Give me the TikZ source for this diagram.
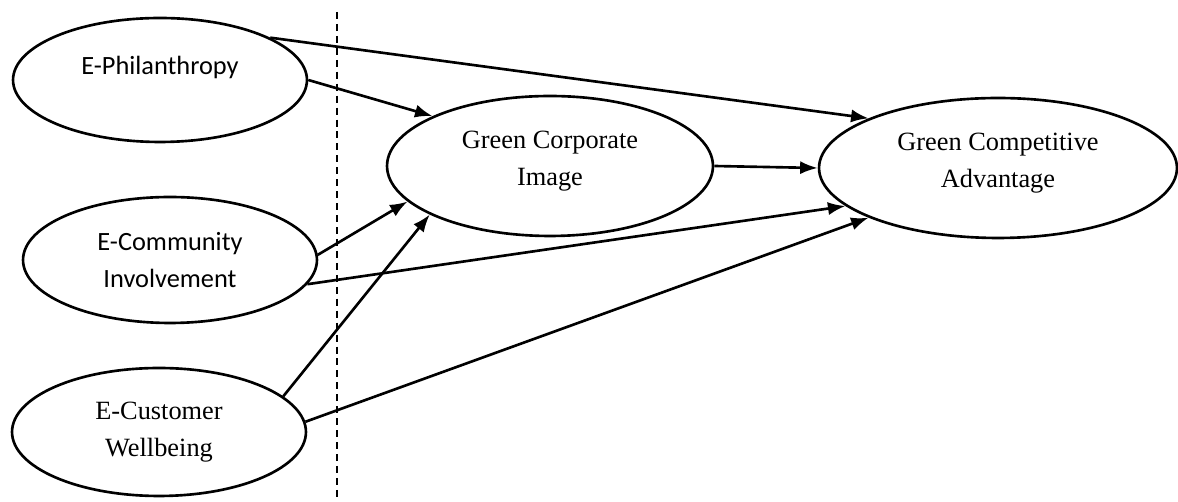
\documentclass[tikz,border=0pt]{standalone}
\usepackage{fontspec}
\setmainfont{Liberation Serif}
\newfontfamily\carlito{Carlito}
\usetikzlibrary{positioning,shapes.geometric,arrows.meta}
\tikzset{
  construct/.style={draw, ellipse, line width=1.5pt, inner sep=0pt, align=center, font=\fontsize{15}{21}\selectfont},
  sanslabel/.style={font=\carlito\fontsize{15}{21}\selectfont},
  link/.style={->, >={Latex[length=10pt,width=7.5pt]}, line width=1.5pt}
}

\begin{document}
\begin{tikzpicture}[x=0.02cm, y=-0.02cm]
  \useasboundingbox (0,0) rectangle (1178,502);
  % independent constructs
  \node[construct, sanslabel, minimum width=5.88cm, minimum height=2.48cm, text depth=0.6cm] (phil) at (160,80) {E-Philanthropy};
  \node[construct, sanslabel, minimum width=5.88cm, minimum height=2.52cm] (comm) at (170,260) {E-Community\\Involvement};
  \node[construct, minimum width=5.88cm, minimum height=2.56cm] (cust) at (159,432) {E-Customer\\Wellbeing};
  % mediator and outcome
  \node[construct, minimum width=6.52cm, minimum height=2.8cm, text depth=0.32cm] (gci) at (550,166) {Green Corporate\\Image};
  \node[construct, minimum width=7.16cm, minimum height=2.8cm, text depth=0.32cm] (gca) at (998,168) {Green Competitive\\Advantage};

  \coordinate (splittop) at (337,12);
  \coordinate (splitbot) at (337,500);
  \draw[line width=0.8pt, dash pattern=on 4pt off 2.8pt] (splittop) -- (splitbot);

  \draw[link] (phil.21) -- (gca.159);
  \draw[link] (phil.east) -- (gci.157);
  \draw[link] (comm.2) -- (gci.194);
  \draw[link] (comm.-10) -- (gca.194);
  \draw[link] (cust.16) -- (gci.202);
  \draw[link] (cust.4) -- (gca.201);
  \draw[link] (gci.east) -- (gca.west);
\end{tikzpicture}
\end{document}
